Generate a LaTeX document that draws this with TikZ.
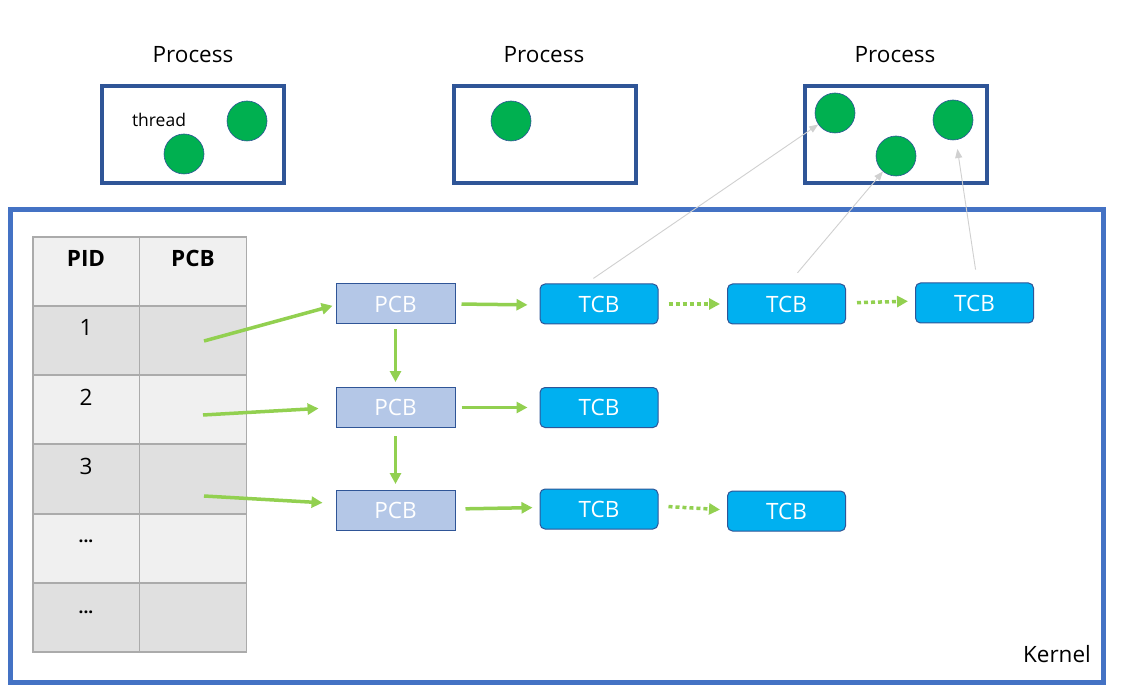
\documentclass[tikz,border=0pt]{standalone}
\usepackage{fontspec}
\setmainfont{Open Sans}
\usetikzlibrary{arrows.meta}
\definecolor{procblue}{HTML}{2F5597}
\definecolor{kernblue}{HTML}{4472C4}
\definecolor{thgreen}{HTML}{00B050}
\definecolor{lgreen}{HTML}{92D050}
\definecolor{pcbfill}{HTML}{B4C7E7}
\definecolor{tcbfill}{HTML}{00B0F0}
\definecolor{cellA}{HTML}{F0F0F0}
\definecolor{cellB}{HTML}{E0E0E0}
\definecolor{cellline}{HTML}{ABABAB}
\definecolor{ptrgray}{HTML}{D0D0D0}
\begin{document}
\begin{tikzpicture}[x=1pt,y=-1pt,
  txt/.style={inner sep=0pt, font=\fontsize{22.5}{26}\selectfont},
  procbox/.style={draw=procblue, line width=3.5pt, minimum width=182pt, minimum height=97pt, inner sep=0pt},
  thread/.style={circle, fill=thgreen, draw=procblue, line width=0.6pt, minimum size=40pt, inner sep=0pt},
  cell/.style={draw=cellline, line width=1.5pt, minimum width=107pt, minimum height=69pt, inner sep=0pt},
  pcbbox/.style={draw=procblue, line width=1pt, fill=pcbfill, minimum width=119pt, minimum height=40pt, inner sep=0pt, text=white, font=\fontsize{22.5}{26}\selectfont},
  tcbbox/.style={draw=procblue, line width=1pt, fill=tcbfill, rounded corners=5pt, minimum width=118pt, minimum height=40pt, inner sep=0pt, text=white, font=\fontsize{22.5}{26}\selectfont},
  link/.style={draw=lgreen, line width=3.5pt, -{Triangle[length=11pt,width=11pt]}},
  dotlink/.style={draw=lgreen, line width=3.5pt, dash pattern=on 4pt off 3pt, -{Triangle[length=11pt,width=11pt]}},
  ptr/.style={draw=ptrgray, line width=0.9pt, -{Triangle[length=9pt,width=7pt]}}
]
\useasboundingbox (0,0) rectangle (1121,700);
\fill[white] (0,0) rectangle (1121,700);

% processes
\node[procbox] (pr1) at (193,134.5) {};
\node[procbox] (pr2) at (545,134.5) {};
\node[procbox] (pr3) at (896,134.5) {};
\node[txt] (lp1) at (193,55) {Process};
\node[txt] (lp2) at (544,55) {Process};
\node[txt] (lp3) at (895,55) {Process};
\node[inner sep=0pt, font=\fontsize{17.5}{20}\selectfont] (lth) at (159,120) {thread};

% threads
\node[thread] (c11) at (247,121) {};
\node[thread] (c12) at (184,154) {};
\node[thread] (c21) at (511,121) {};
\node[thread] (c31) at (835,113) {};
\node[thread] (c32) at (896,156) {};
\node[thread] (c33) at (953,120) {};

% kernel
\draw[draw=kernblue, line width=5pt] (10.5,209.5) rectangle (1103.5,682.5);
\node[txt, anchor=east] (kern) at (1091,654) {Kernel};

% process table
\node[cell, fill=cellA] (h1) at (86.5,271.5) {};
\node[cell, fill=cellA] (h2) at (193,271.5) {};
\node[cell, fill=cellB] (r1a) at (86.5,340.5) {};
\node[cell, fill=cellB] (r1b) at (193,340.5) {};
\node[cell, fill=cellA] (r2a) at (86.5,409.5) {};
\node[cell, fill=cellA] (r2b) at (193,409.5) {};
\node[cell, fill=cellB] (r3a) at (86.5,479) {};
\node[cell, fill=cellB] (r3b) at (193,479) {};
\node[cell, fill=cellA] (r4a) at (86.5,548.5) {};
\node[cell, fill=cellA] (r4b) at (193,548.5) {};
\node[cell, fill=cellB] (r5a) at (86.5,617.5) {};
\node[cell, fill=cellB] (r5b) at (193,617.5) {};
\node[txt, font=\fontsize{22.5}{26}\selectfont\bfseries] at (86,258) {PID};
\node[txt, font=\fontsize{22.5}{26}\selectfont\bfseries] at (193,258) {PCB};
\node[txt] at (86,327) {1};
\node[txt] at (86,397) {2};
\node[txt] at (86,466) {3};
\node[txt, font=\fontsize{17}{20}\selectfont\bfseries] at (86,541) {...};
\node[txt, font=\fontsize{17}{20}\selectfont\bfseries] at (86,612) {...};

% control blocks
\node[pcbbox] (p1) at (395.5,304) {PCB};
\node[pcbbox] (p2) at (395.5,407.5) {PCB};
\node[pcbbox] (p3) at (395.5,510.5) {PCB};
\node[tcbbox] (t11) at (599,304) {TCB};
\node[tcbbox] (t12) at (786.5,304) {TCB};
\node[tcbbox] (t13) at (974.5,303) {TCB};
\node[tcbbox] (t21) at (599,407.5) {TCB};
\node[tcbbox] (t31) at (599,509) {TCB};
\node[tcbbox] (t32) at (786.5,511) {TCB};

% table pointers
\coordinate (s1) at (204,341);
\coordinate (s2) at (203,415);
\coordinate (s3) at (204,496);
\draw[link, shorten >=3pt] (s1) -- ([yshift=-1pt]p1.west);
\draw[link, shorten >=17pt] (s2) -- ([yshift=0pt]p2.west);
\draw[link, shorten >=13pt] (s3) -- ([yshift=7pt]p3.west);

% PCB list
\draw[link, shorten <=5pt, shorten >=5pt] (p1.south) -- (p2.north);
\draw[link, shorten <=8pt, shorten >=6pt] (p2.south) -- (p3.north);

% PCB to TCB
\draw[link, shorten <=6pt, shorten >=12pt] (p1.east) -- ([yshift=-1pt]t11.west);
\draw[link, shorten <=6pt, shorten >=12pt] (p2.east) -- (t21.west);
\draw[link, shorten <=10pt, shorten >=7pt] ([yshift=1.5pt]p3.east) -- ([yshift=1.5pt]t31.west);

% TCB chains
\draw[dotlink, shorten <=10pt, shorten >=7pt] (t11.east) -- (t12.west);
\draw[dotlink, shorten <=11pt, shorten >=7pt] ([yshift=1pt]t12.east) -- ([yshift=2pt]t13.west);
\draw[dotlink, shorten <=10pt, shorten >=7pt] ([yshift=3pt]t31.east) -- ([yshift=1pt]t32.west);

% TCB to thread
\draw[ptr, shorten <=9pt] ([xshift=-13pt]t11.north) -- (c31);
\draw[ptr, shorten <=14pt] ([xshift=2pt]t12.north) -- (c32);
\draw[ptr, shorten <=13pt, shorten >=9pt] ([xshift=3pt]t13.north) -- (c33);
\end{tikzpicture}
\end{document}
